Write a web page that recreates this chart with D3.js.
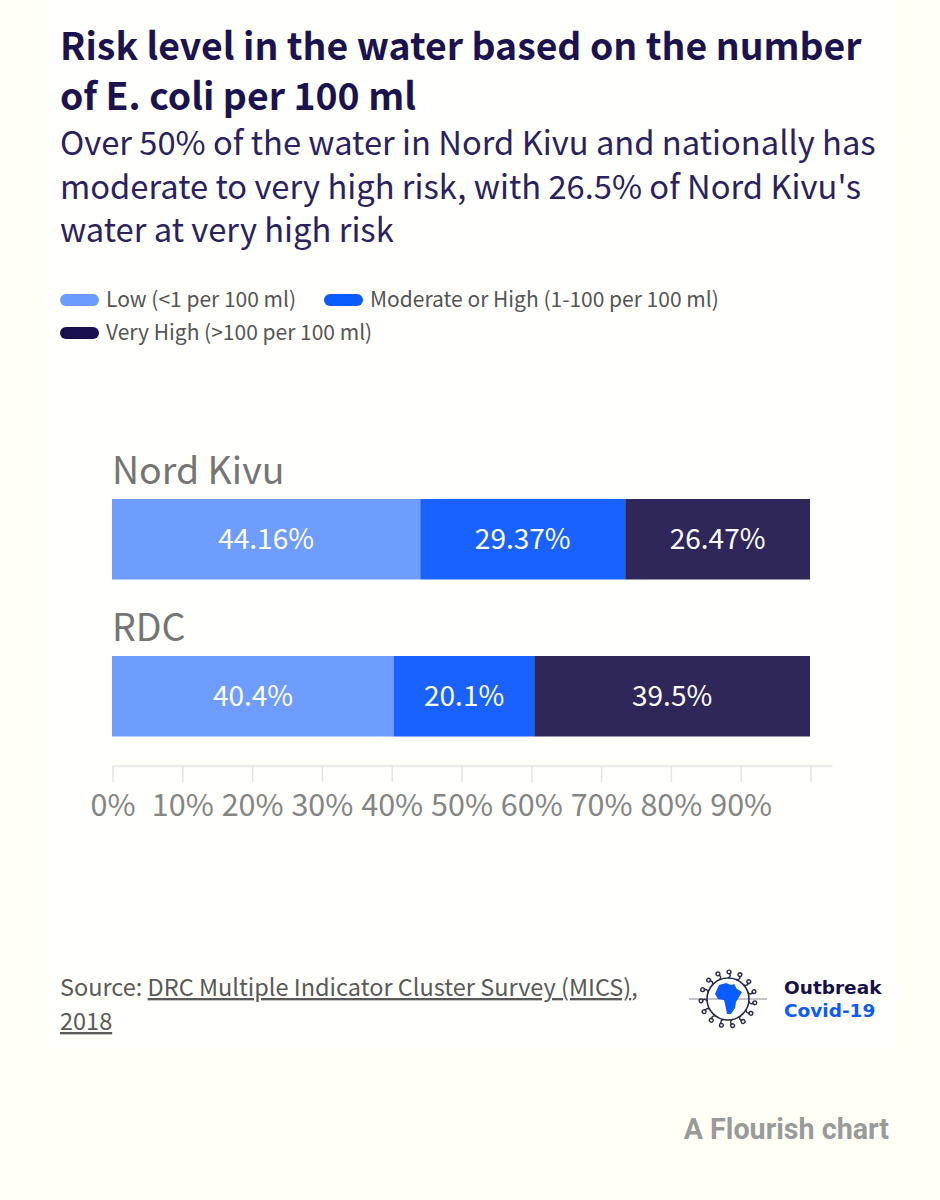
<!DOCTYPE html>
<html>
<head>
<meta charset="utf-8">
<script src="https://cdn.jsdelivr.net/npm/d3@7"></script>
<style>
html, body { margin: 0; padding: 0; background: #fffff6; }
svg { display: block; font-family: "Noto Sans CJK SC", "Noto Sans", sans-serif; }
</style>
</head>
<body>
<div id="chart"></div>
<script>
var categories = ['Nord Kivu', 'RDC'];
var seriesNames = ['Low (<1 per 100 ml)', 'Moderate or High (1-100 per 100 ml)', 'Very High (>100 per 100 ml)'];
var lowValues = [44.16, 40.4];
var moderateValues = [29.37, 20.1];
var veryHighValues = [26.47, 39.5];
var valueLabels = [['44.16%', '40.4%'], ['29.37%', '20.1%'], ['26.47%', '39.5%']];
var xTicks = [0, 10, 20, 30, 40, 50, 60, 70, 80, 90, 100];
var xTickLabels = ['0%', '10%', '20%', '30%', '40%', '50%', '60%', '70%', '80%', '90%', ''];

var titleLines = ['Risk level in the water based on the number', 'of E. coli per 100 ml'];
var subtitleLines = ['Over 50% of the water in Nord Kivu and nationally has', "moderate to very high risk, with 26.5% of Nord Kivu's", 'water at very high risk'];

var barColours = ['#6f9cff', '#1a62ff', '#2f2759'];
var legendColours = ['#6b9bff', '#0a5cff', '#180f4f'];
var navy = '#1b1250';

var width = 940, height = 1200;
var svg = d3.select('#chart').append('svg').attr('width', width).attr('height', height);

// lighter card behind everything
svg.append('rect').attr('x', 40).attr('y', 0).attr('width', 860).attr('height', 1047).attr('fill', '#fffffc');

// header
svg.selectAll('.title').data(titleLines).enter().append('text')
	.attr('class', 'title')
	.attr('x', 60)
	.attr('y', function(d, i){ return 60 + i * 50; })
	.attr('font-size', 37.4)
	.attr('font-weight', 700)
	.attr('fill', navy)
	.text(function(d){ return d; });

svg.selectAll('.subtitle').data(subtitleLines).enter().append('text')
	.attr('class', 'subtitle')
	.attr('x', 60)
	.attr('y', function(d, i){ return 155 + i * 43.5; })
	.attr('font-size', 32.7)
	.attr('fill', '#2a2260')
	.text(function(d){ return d; });

// legend
var legendX = [60, 324, 60], legendY = [300, 300, 333];
var legend = svg.selectAll('.legend').data(seriesNames).enter().append('g')
	.attr('class', 'legend')
	.attr('transform', function(d, i){ return 'translate(' + legendX[i] + ',' + legendY[i] + ')'; });
legend.append('rect')
	.attr('y', -6).attr('width', 39).attr('height', 12).attr('rx', 6)
	.attr('fill', function(d, i){ return legendColours[i]; });
legend.append('text')
	.attr('x', 46).attr('y', 7)
	.attr('font-size', 21)
	.attr('fill', '#555')
	.text(function(d){ return d; });

// scales
var x = d3.scaleLinear().domain([0, 100]).range([112, 810]);
var y = d3.scalePoint().domain(categories).range([499, 656]);
var barHeight = 80.5;

var stackInput = categories.map(function(c, i){
	return { category: c, low: lowValues[i], moderate: moderateValues[i], veryHigh: veryHighValues[i] };
});
var stacked = d3.stack().keys(['low', 'moderate', 'veryHigh'])(stackInput);

var layers = svg.selectAll('.layer').data(stacked).enter().append('g')
	.attr('class', 'layer')
	.attr('fill', function(d, i){ return barColours[i]; });

layers.selectAll('rect').data(function(d){ return d; }).enter().append('rect')
	.attr('x', function(d){ return x(d[0]); })
	.attr('y', function(d){ return y(d.data.category); })
	.attr('width', function(d){ return x(d[1]) - x(d[0]); })
	.attr('height', barHeight);

layers.each(function(layer, li){
	d3.select(this).selectAll('text').data(layer).enter().append('text')
		.attr('x', function(d){ return (x(d[0]) + x(d[1])) / 2; })
		.attr('y', function(d){ return y(d.data.category) + barHeight / 2 + 10; })
		.attr('text-anchor', 'middle')
		.attr('font-size', 28)
		.attr('fill', '#fff')
		.text(function(d, i){ return valueLabels[li][i]; });
});

svg.selectAll('.cat').data(categories).enter().append('text')
	.attr('class', 'cat')
	.attr('x', 112)
	.attr('y', function(d){ return y(d) - 15; })
	.attr('font-size', 37.5)
	.attr('fill', '#757575')
	.text(function(d){ return d; });

// axis, the baseline runs on a bit past 100%
var axis = d3.axisBottom(x)
	.tickValues(xTicks)
	.tickSizeOuter(0)
	.tickSize(16)
	.tickPadding(12)
	.tickFormat(function(d, i){ return xTickLabels[i]; });

var axisG = svg.append('g').attr('transform', 'translate(0.5,766)').call(axis);
axisG.select('.domain').attr('d', 'M112,0H832').attr('stroke', '#ececec').attr('stroke-width', 2.5);
axisG.selectAll('.tick line').attr('stroke', '#e4e4e4').attr('stroke-width', 1.5);
axisG.selectAll('.tick text')
	.attr('font-family', '"Noto Sans CJK SC", sans-serif')
	.attr('font-size', 30.5)
	.attr('fill', '#858585');

// source
var source = svg.append('g').attr('font-size', 23.5).attr('fill', '#595959');
var sourceLine = source.append('text').attr('x', 60).attr('y', 996);
sourceLine.append('tspan').text('Source: ');
sourceLine.append('tspan').attr('text-decoration', 'underline').text('DRC Multiple Indicator Cluster Survey (MICS)');
sourceLine.append('tspan').text(',');
source.append('text').attr('x', 60).attr('y', 1030).attr('text-decoration', 'underline').text('2018');

// logo
var logo = svg.append('g').attr('transform', 'translate(728,999)');
logo.append('line').attr('x1', -39).attr('x2', 39).attr('stroke', '#8a8a9a').attr('stroke-width', 1);
logo.append('circle').attr('r', 21).attr('fill', 'none').attr('stroke', '#2a2a4a').attr('stroke-width', 1.6);
var spikeAngles = d3.range(0, 360, 24);
logo.selectAll('.spike').data(spikeAngles).enter().append('g')
	.attr('class', 'spike')
	.attr('transform', function(d){ return 'rotate(' + d + ')'; })
	.call(function(g){
		g.append('path').attr('d', 'M0,-21Q4,-23 1,-26').attr('fill', 'none').attr('stroke', '#2a2a4a').attr('stroke-width', 1.4);
		g.append('circle').attr('cx', 1).attr('cy', -27).attr('r', 1.9).attr('fill', 'none').attr('stroke', '#2a2a4a').attr('stroke-width', 1.4);
	});
logo.append('path')
	.attr('d', 'M-9,-14L-2,-16L3,-14L6,-15L9,-10L14,-7L11,-2L8,3L7,9L3,15L-1,15L-3,5L-4,1L-10,0L-13,-5Z')
	.attr('fill', '#0a5cff');

var logoFont = '"DejaVu Sans", sans-serif';
svg.append('text').attr('x', 784).attr('y', 994)
	.attr('font-family', logoFont).attr('font-weight', 700).attr('font-size', 18.5)
	.attr('fill', '#15104a').text('Outbreak');
svg.append('text').attr('x', 784).attr('y', 1017)
	.attr('font-family', logoFont).attr('font-weight', 700).attr('font-size', 18.5)
	.attr('fill', '#0a5cff').text('Covid-19');

// credit
svg.append('text').attr('x', 889).attr('y', 1139)
	.attr('text-anchor', 'end')
	.attr('font-family', 'Roboto, sans-serif')
	.attr('font-weight', 700)
	.attr('font-size', 28.7)
	.attr('fill', '#9a9a9a')
	.text('A Flourish chart');
</script>
</body>
</html>
